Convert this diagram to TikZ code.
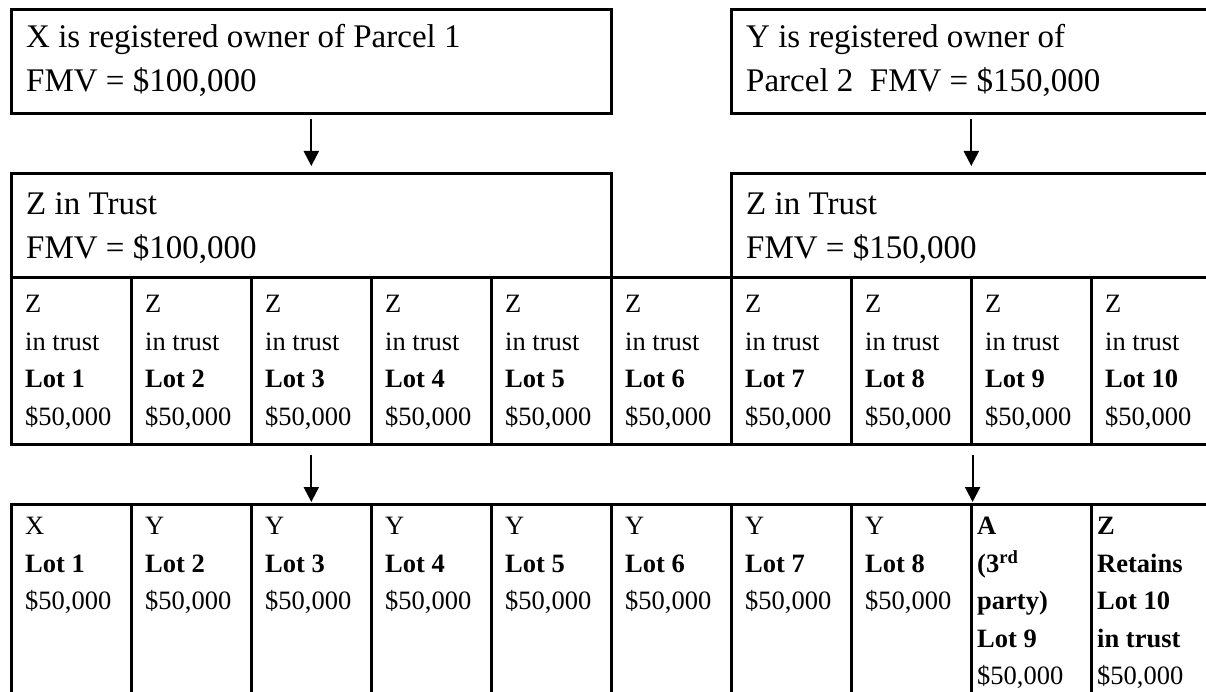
\documentclass[tikz,border=0pt]{standalone}
\usepackage{fontspec}
\setmainfont{Liberation Serif}
\usepackage{xcolor}
\usetikzlibrary{arrows.meta,positioning}
\definecolor{rule}{HTML}{000000}
\newcommand\headfont{\fontsize{33}{44}\selectfont}
\newcommand\lotfont{\fontsize{26.5}{37.5}\selectfont}
\tikzset{
  box/.style={draw=rule,line width=2.6pt,inner sep=0pt,anchor=north west},
  lot/.style={box,minimum width=120pt,minimum height=167pt},
  own/.style={box,minimum width=120pt,minimum height=200pt},
  txt/.style={anchor=north west,align=left,inner sep=0pt,text=rule},
  headtxt/.style={txt,font=\headfont},
  lottxt/.style={txt,font=\lotfont},
  flow/.style={-{Triangle[length=15pt,width=15pt]},line width=2.2pt,draw=rule}
}

\begin{document}
\begin{tikzpicture}[x=1pt,y=-1pt]
  \useasboundingbox (0,0) rectangle (1206,692);
  % registered owners
  \node[box,minimum width=600pt,minimum height=104pt] (xbox) at (10,8) {};
  \node[headtxt] (xtxt) at (26,24) {X is registered owner of Parcel 1\\FMV = \$100,000};
  \node[box,minimum width=480pt,minimum height=104pt] (ybox) at (730,8) {};
  \node[headtxt] (ytxt) at (746,24) {Y is registered owner of\\Parcel 2~~FMV = \$150,000};

  % trusts
  \node[box,minimum width=600pt,minimum height=104pt] (trustL) at (10,172) {};
  \node[headtxt] (ltxt) at (26,192) {Z in Trust\\FMV = \$100,000};
  \node[box,minimum width=480pt,minimum height=104pt] (trustR) at (730,172) {};
  \node[headtxt] (rtxt) at (746,192) {Z in Trust\\FMV = \$150,000};
  \draw[flow,shorten <=4pt,shorten >=6pt] (xbox) -- (trustL);
  \draw[flow,shorten <=4pt,shorten >=6pt] (ybox) -- (trustR);

  % lots held in trust
  \foreach \i in {1,...,10} {
    \node[lot] (lot\i) at ({10+120*(\i-1)},276) {};
    \node[lottxt] (lott\i) at ([xshift=15pt,yshift=-19pt]lot\i.north west)
      {Z\\in trust\\\textbf{Lot \i}\\\$50,000};
  }

  % transfers out of the trust
  \foreach \i/\who in {1/X,2/Y,3/Y,4/Y,5/Y,6/Y,7/Y,8/Y,9/A,10/Z}
    \node[own] (own\i) at ({10+120*(\i-1)},503) {};
  \foreach \i/\who in {1/X,2/Y,3/Y,4/Y,5/Y,6/Y,7/Y,8/Y}
    \node[lottxt] (ownt\i) at ([xshift=15pt,yshift=-14pt]own\i.north west)
      {\who\\\textbf{Lot \i}\\\$50,000};
  \node[lottxt] (ownt9) at ([xshift=7pt,yshift=-14pt]own9.north west)
    {\textbf{A}\\\textbf{(3\textsuperscript{rd}}\\\textbf{party)}\\\textbf{Lot 9}\\\$50,000};
  \node[lottxt] (ownt10) at ([xshift=7pt,yshift=-14pt]own10.north west)
    {\textbf{Z}\\\textbf{Retains}\\\textbf{Lot 10}\\\textbf{in trust}\\\$50,000};
  \draw[flow,shorten <=9pt,shorten >=1pt] (lot3) -- (own3);
  \draw[flow,shorten <=9pt,shorten >=1pt] (lot8.south east) -- (own8.north east);
\end{tikzpicture}
\end{document}
